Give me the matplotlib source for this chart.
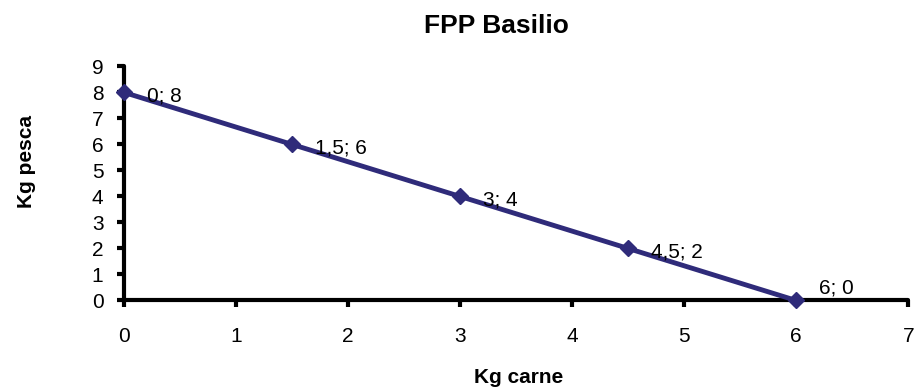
import matplotlib
matplotlib.use("Agg")
import matplotlib.pyplot as plt

plt.rcParams["font.family"] = ["Liberation Sans", "DejaVu Sans"]

# Data
carne = [0, 1.5, 3, 4.5, 6]
pesca = [8, 6, 4, 2, 0]
labels = ["0; 8", "1,5; 6", "3; 4", "4,5; 2", "6; 0"]
# vertical shift (points) of each data label, last one sits above the axis
label_dy = [-6.5, -6.5, -6.5, -6.5, 5]

fig = plt.figure(figsize=(9.15, 3.9), dpi=100)
ax = fig.add_axes([0.1358, 0.2295, 0.8568, 0.60])

line_color = "#2F2B7A"
ax.plot(carne, pesca, color=line_color, linewidth=3.5, marker="D",
        markersize=8.5, markeredgewidth=1, clip_on=False, zorder=3)

for x, y, lab, dy in zip(carne, pesca, labels, label_dy):
    ax.annotate(lab, (x, y), xytext=(16.5, dy), textcoords="offset points",
                fontsize=15, va="baseline", ha="left", zorder=4)

ax.set_xlim(0, 7)
ax.set_ylim(0, 9)
ax.set_xticks(range(0, 8))
ax.set_yticks(range(0, 10))

for side in ["top", "right"]:
    ax.spines[side].set_visible(False)
for side in ["left", "bottom"]:
    ax.spines[side].set_linewidth(3)
    ax.spines[side].set_capstyle("round")
ax.tick_params(axis="both", direction="out", length=5, width=3,
               labelsize=15)
ax.tick_params(axis="x", pad=14)
ax.tick_params(axis="y", pad=10)

# Titles placed like the original chart area
fig.text(496 / 915, 1 - 33 / 390, "FPP Basilio", fontsize=19,
         fontweight="bold", ha="center", va="baseline")
fig.text(519 / 915, 1 - 383 / 390, "Kg carne", fontsize=15,
         fontweight="bold", ha="center", va="baseline")
fig.text(27 / 915, 1 - 161.5 / 390, "Kg pesca", fontsize=15,
         fontweight="bold", ha="center", va="center", rotation=90)

fig.savefig("out.png", dpi=100)
